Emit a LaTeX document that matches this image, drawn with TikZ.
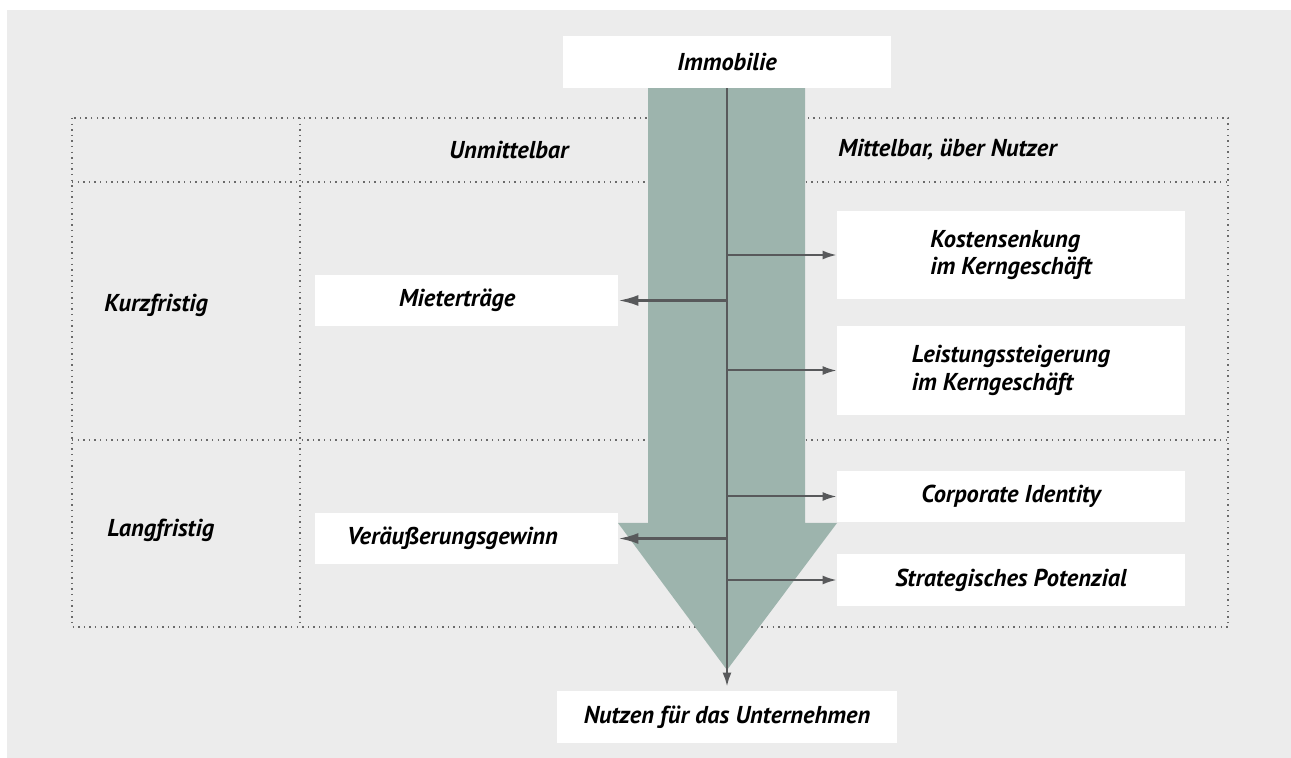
\documentclass[tikz,border=0pt]{standalone}
\usepackage{fontspec}
\setmainfont{PT Sans}
\usepackage{tikz}
\usetikzlibrary{arrows.meta,positioning,calc}
\definecolor{bggray}{HTML}{ECECEC}
\definecolor{flowgreen}{HTML}{9DB4AD}
\definecolor{linegray}{HTML}{58595B}
\definecolor{dotgray}{HTML}{6A6A6A}
\tikzstyle{whitebox}=[fill=white,inner sep=0pt,minimum height=25.5pt,align=center]
\tikzstyle{plain}=[inner sep=0pt]
\tikzstyle{gridline}=[dotgray,line width=0.7pt,dash pattern=on 0.7pt off 2.1pt]
\tikzstyle{spine}=[linegray,line width=1.15pt]
\tikzstyle{outarrow}=[linegray,line width=1pt,-{Latex[length=7pt,width=4.5pt]}]
\tikzstyle{inarrow}=[linegray,line width=1.3pt,-{Latex[length=10pt,width=5.5pt]}]

\begin{document}
\begin{tikzpicture}[x=0.5pt,y=-0.5pt,font=\fontsize{12.2}{13.8}\selectfont\bfseries\itshape]
    \useasboundingbox (0,0) rectangle (1291,758);
    \fill[bggray] (7,10) rectangle (1291,758);
    \draw[gridline] (72,118) rectangle (1228,627);
    \draw[gridline] (72,182) -- (1228,182);
    \draw[gridline] (72,440) -- (1228,440);
    \draw[gridline] (300,118) -- (300,627);
    \fill[flowgreen] (648,88) -- (805,88) -- (805,523) -- (837,523) -- (727,670)
      -- (618,523) -- (648,523) -- cycle;

    \node [whitebox,minimum width=164pt,minimum height=26pt] (immo) at (727,62) {Immobilie};
    \node [whitebox,minimum width=170pt,minimum height=26pt] (nutzen) at (727,717) {Nutzen für das Unternehmen};

    \node [plain] (direkt) at (509,150) {Unmittelbar};
    \node [plain,anchor=west] (indirekt) at (838,150) {Mittelbar, über Nutzer};
    \node [plain,anchor=west] (kurz) at (104,305) {Kurzfristig};
    \node [plain,anchor=west] (lang) at (107,530) {Langfristig};

    \node [whitebox,minimum width=151.5pt] (miete) at (466.5,300.5) {};
    \node [plain,anchor=west] (mietetxt) at ([xshift=42pt]miete.west) {Mieterträge};
    \node [whitebox,minimum width=151.5pt] (verkauf) at (466.5,538.5) {};
    \node [plain,anchor=west] (verkauftxt) at ([xshift=16pt]verkauf.west) {Veräußerungsgewinn};

    \node [whitebox,minimum width=174pt,minimum height=44pt,align=left] (kosten) at (1011,255) {Kostensenkung\\im Kerngeschäft};
    \node [whitebox,minimum width=174pt,minimum height=44.5pt,align=left] (leistung) at (1011,370.5) {Leistungssteigerung\\im Kerngeschäft};
    \node [whitebox,minimum width=174pt] (identity) at (1011,496.5) {Corporate Identity};
    \node [whitebox,minimum width=174pt,minimum height=26pt] (potenzial) at (1011,580) {Strategisches Potenzial};

    \draw[spine,-{Latex[length=7pt,width=4.5pt]},shorten >=2pt] (immo.south) -- (nutzen.north);
    \draw[inarrow] (immo.south |- miete.east) -- (miete.east);
    \draw[inarrow] (immo.south |- verkauf.east) -- (verkauf.east);
    \draw[outarrow] (immo.south |- kosten.west) -- (kosten.west);
    \draw[outarrow] (immo.south |- leistung.west) -- (leistung.west);
    \draw[outarrow] (immo.south |- identity.west) -- (identity.west);
    \draw[outarrow] (immo.south |- potenzial.west) -- (potenzial.west);
\end{tikzpicture}
\end{document}
